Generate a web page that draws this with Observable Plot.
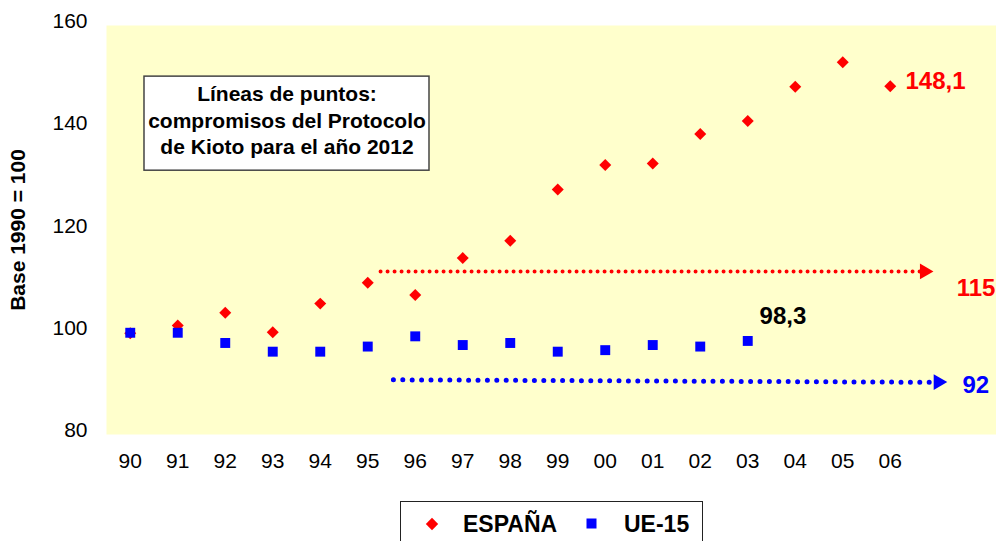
<!DOCTYPE html>
<html><head><meta charset="utf-8">
<script src="https://cdn.jsdelivr.net/npm/d3@7"></script>
<script src="https://cdn.jsdelivr.net/npm/@observablehq/plot@0.6"></script>
<style>
body{margin:0;background:#fff;overflow:hidden;font-family:"Liberation Sans",Arial,sans-serif;}
#chart svg{display:block;overflow:visible;}
#legend{position:absolute;left:400px;top:501px;width:301px;height:50px;border:1.5px solid #222;background:#fff;font-weight:bold;font-size:23px;color:#000;}
#legend .item{position:absolute;top:9px;line-height:26px;}
#legend svg{position:absolute;}
</style></head><body>
<div id="chart"></div>
<div id="legend">
  <svg style="left:24px;top:15px" width="14" height="14"><path d="M7,0.8L13.2,7L7,13.2L0.8,7Z" fill="#FF0000"/></svg>
  <span class="item" style="left:62px">ESPAÑA</span>
  <svg style="left:185px;top:16px" width="11" height="11"><rect x="0.5" y="0.5" width="10" height="10" fill="#0000FF"/></svg>
  <span class="item" style="left:223px">UE-15</span>
</div>
<script>
// Categories (years)
const years = ["90","91","92","93","94","95","96","97","98","99","00","01","02","03","04","05","06"];
// Series values (Base 1990 = 100)
const espana = [99.8,101.3,103.8,100.0,105.6,109.7,107.3,114.5,117.9,127.9,132.7,133.0,138.8,141.3,148.0,152.8,148.1];
const ue15 = [99.9,99.9,97.9,96.2,96.2,97.2,99.2,97.5,97.9,96.2,96.5,97.5,97.2,98.3];
const yTicks = [80,100,120,140,160];

// Kyoto commitment dotted lines (x in year index, y in index value)
const targetNames = ["ESPAÑA","UE-15"];
const targetX1 = [5.27, 5.54];
const targetX2 = [16.91, 17.2];
const targetY1 = [111.9, 90.7];
const targetY2 = [111.9, 90.2];
const arrowX = [16.72, 17.01];
const arrowY = [111.9, 90.25];

// Value labels
const labelText = ["148,1", "98,3", "115", "92"];
const labelX = [16.32, 13.25, 17.4, 17.52];
const labelY = [149.1, 103.1, 108.6, 89.6];
const labelColor = ["#FF0000", "#000000", "#FF0000", "#0000FF"];

// Note box
const noteLines = ["Líneas de puntos:", "compromisos del Protocolo", "de Kioto para el año 2012"];
const noteBox = {x1: 0.3, x2: 6.3, y1: 131.6, y2: 150.0, cx: 3.3, cy: 141.7};

const spainData = years.map((y, i) => ({i, v: espana[i]}));
const ueData = ue15.map((v, i) => ({i, v}));
const idx = [0, 1];
const red = "#FF0000", blue = "#0000FF";

const chart = Plot.plot({
  width: 996,
  height: 497,
  marginLeft: 106,
  marginRight: 0,
  marginTop: 25,
  marginBottom: 63,
  style: {fontFamily: "'Liberation Sans', Arial, sans-serif", fontSize: "21px", color: "#000", background: "#fff"},
  x: {type: "linear", domain: [-0.5, 18.237], axis: null},
  y: {domain: [80, 160], axis: null},
  marks: [
    Plot.frame({fill: "#FFFFCC", stroke: null}),
    Plot.axisY({ticks: yTicks, tickSize: 0, tickPadding: 19, dy: -4, fontSize: 21, fill: "#000"}),
    Plot.axisX({ticks: d3.range(years.length), tickFormat: i => years[i], tickSize: 0, tickPadding: 19, fontSize: 21, fill: "#000"}),
    Plot.text(["Base 1990 = 100"], {frameAnchor: "left", textAnchor: "middle", dx: -88, rotate: -90, fontWeight: "bold", fontSize: 21, fill: "#000"}),
    // note box
    Plot.rect([noteBox], {x1: "x1", x2: "x2", y1: "y1", y2: "y2", fill: "#fff", stroke: "#444", strokeWidth: 1.5}),
    Plot.text([noteLines.join("\n")], {x: noteBox.cx, y: noteBox.cy, fontWeight: "bold", fontSize: 21, lineHeight: 1.26, fill: "#000"}),
    // Kyoto lines
    Plot.link([0], {x1: i => targetX1[i], x2: i => targetX2[i], y1: i => targetY1[i], y2: i => targetY2[i], stroke: red, strokeWidth: 4, strokeDasharray: "0 7", strokeLinecap: "round"}),
    Plot.link([1], {x1: i => targetX1[i], x2: i => targetX2[i], y1: i => targetY1[i], y2: i => targetY2[i], stroke: blue, strokeWidth: 5, strokeDasharray: "0 9.4", strokeLinecap: "round"}),
    Plot.dot(idx, {x: i => arrowX[i], y: i => arrowY[i], symbol: "triangle", rotate: 90, r: 5.8, fill: i => i === 0 ? red : blue, stroke: null}),
    // series
    Plot.dot(spainData, {x: "i", y: "v", symbol: "diamond2", r: 5.4, fill: red, stroke: null}),
    Plot.dot(ueData, {x: "i", y: "v", symbol: "square", r: 5.6, fill: blue, stroke: null}),
    // labels
    Plot.text(d3.range(labelText.length), {x: i => labelX[i], y: i => labelY[i], text: i => labelText[i], fill: i => labelColor[i], textAnchor: "start", fontWeight: "bold", fontSize: 24})
  ]
});
document.getElementById("chart").appendChild(chart);
</script>
</body></html>
